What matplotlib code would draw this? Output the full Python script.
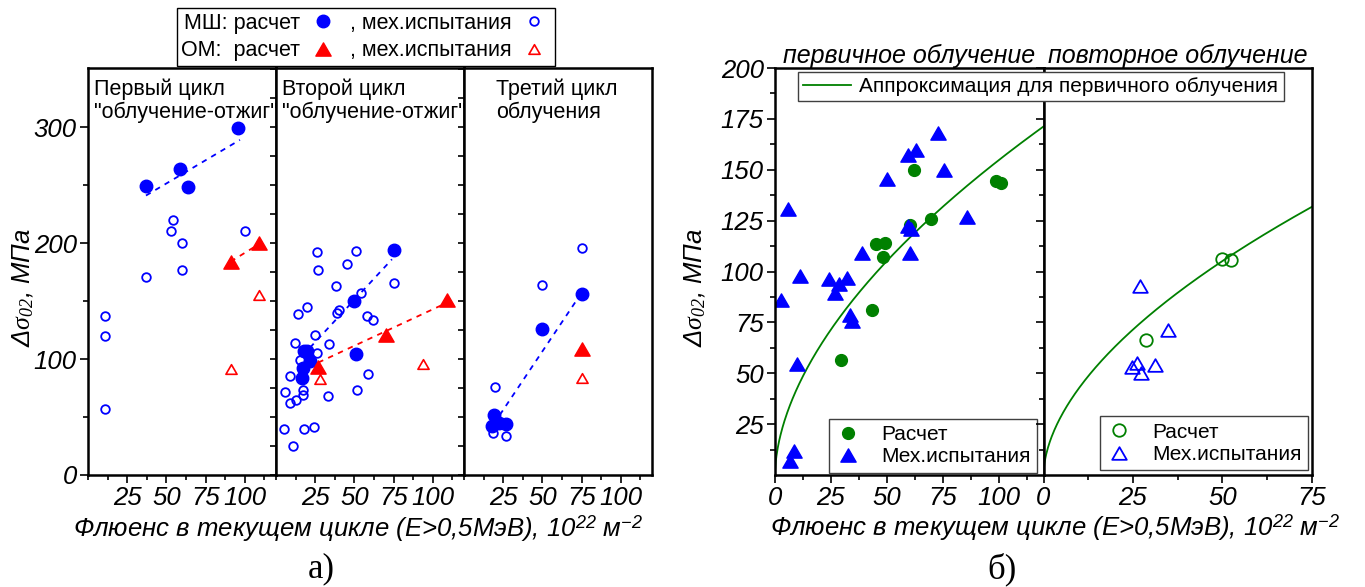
import numpy as np
import matplotlib
matplotlib.use("Agg")
import matplotlib.pyplot as plt
from matplotlib.lines import Line2D
from matplotlib.path import Path

plt.rcParams['font.family'] = ['Liberation Sans', 'DejaVu Sans']
plt.rcParams['mathtext.fontset'] = 'custom'
plt.rcParams['mathtext.rm'] = 'Liberation Serif:italic'
plt.rcParams['mathtext.it'] = 'Liberation Serif:italic'
plt.rcParams['mathtext.sf'] = 'Liberation Sans:italic'

BLUE = '#0000ff'
RED = '#ff0000'
GREEN = '#008000'

# ---- а) three "irradiation-annealing" cycles ----
cycle_titles = ['Первый цикл\n"облучение-отжиг"', 'Второй цикл\n"облучение-отжиг"', 'Третий цикл\nоблучения']

c1_ms_calc_x = [37, 59, 64, 96]
c1_ms_calc_y = [249, 264, 248, 299]
c1_ms_test_x = [11, 11, 11, 37, 53, 54, 60, 60, 100]
c1_ms_test_y = [137, 120, 57, 171, 210, 220, 200, 177, 210]
c1_om_calc_x = [91, 109]
c1_om_calc_y = [184, 200]
c1_om_test_x = [91, 109]
c1_om_test_y = [91, 155]
c1_ms_fit = ([37, 97], [241, 289])
c1_om_fit = ([91, 109], [184, 199])

c2_ms_calc_x = [75, 50, 51, 17.6, 20, 22, 17, 16.5]
c2_ms_calc_y = [194, 150, 104, 107, 107, 98, 92, 84]
c2_ms_test_x = [26, 51, 27, 45, 38, 75, 54, 14, 20, 39, 40, 58, 62, 25, 12, 34, 15, 26,
                9, 59, 6, 17, 17, 13, 9, 33, 52, 5, 18, 24, 11]
c2_ms_test_y = [192, 193, 177, 182, 163, 166, 157, 139, 145, 140, 142, 137, 134, 121, 114, 113, 99, 105,
                85, 87, 72, 73, 69, 65, 62, 68, 73, 40, 40, 41, 25]
c2_om_calc_x = [27, 70, 109]
c2_om_calc_y = [93, 121, 151]
c2_om_test_x = [28, 94]
c2_om_test_y = [83, 96]
c2_ms_fit = ([17, 74], [103, 186])
c2_om_fit = ([27, 109], [97, 148.5])

c3_ms_calc_x = [75, 50, 19, 18, 22.5, 27]
c3_ms_calc_y = [156, 126, 52, 42, 44.5, 44]
c3_ms_test_x = [75, 50, 20, 18.7, 26.6]
c3_ms_test_y = [196, 164, 76, 36, 34]
c3_om_calc_x = [75]
c3_om_calc_y = [109]
c3_om_test_x = [75]
c3_om_test_y = [84]
c3_ms_fit = ([19, 74], [44, 155])

# ---- б) primary / repeated irradiation ----
prim_calc_x = [62, 98.6, 101, 69.7, 60.4, 45, 49, 48.3, 43.4, 29.7]
prim_calc_y = [150, 144.5, 143.7, 126, 122.7, 113.4, 114.2, 107.3, 81, 56.3]
prim_test_x = [5.6, 2.5, 11, 24, 28.4, 32.3, 26.8, 39, 50.2, 59.6, 62.9, 59.4, 60.6, 60.4,
               73, 75.4, 85.7, 9.8, 33.3, 34.6, 8.7, 6.7]
prim_test_y = [130.6, 86, 97.8, 96.2, 93.7, 97, 89.6, 109, 145.7, 157.2, 159.8, 122.4, 121, 109,
               167.9, 149.7, 126.8, 54.7, 78.4, 75.6, 12, 7.1]
rep_calc_x = [49.8, 52.5, 28.5]
rep_calc_y = [106.3, 105.5, 66.1]
rep_test_x = [27, 34.8, 31.1, 26, 24.8, 27.2]
rep_test_y = [92.9, 71.2, 54, 55.2, 53.2, 49.9]
# approximation for primary irradiation: y = a * F^b
fit_a, fit_b = 11.9, 0.557

xlabel = 'Флюенс в текущем цикле (E>0,5МэВ), 10$^{\\mathsf{22}}$ м$^{\\mathsf{-2}}$'
ylabel = 'Δ$\\sigma_{02}$, МПа'

# equilateral triangle marker (closed)
TRI = Path([(-1, -0.866), (1, -0.866), (0, 0.866), (-1, -0.866)], closed=True)

W, H = 1365, 587
fig = plt.figure(figsize=(W / 100, H / 100), dpi=100)


def px_axes(x0, x1, y0=68, y1=475):
    return fig.add_axes([x0 / W, 1 - y1 / H, (x1 - x0) / W, (y1 - y0) / H])


def style(ax, lw=1.8):
    for s in ax.spines.values():
        s.set_linewidth(lw)
    ax.tick_params(which='both', direction='out', width=1.2, top=False, right=False)
    ax.tick_params(which='major', length=5.5, labelsize=18.5, pad=2.5)
    ax.tick_params(which='minor', length=3.5)
    for lab in ax.get_xticklabels() + ax.get_yticklabels():
        lab.set_fontstyle('italic')


# ---------- а) ----------
cycles = [
    (c1_ms_calc_x, c1_ms_calc_y, c1_ms_test_x, c1_ms_test_y, c1_om_calc_x, c1_om_calc_y,
     c1_om_test_x, c1_om_test_y, c1_ms_fit, c1_om_fit),
    (c2_ms_calc_x, c2_ms_calc_y, c2_ms_test_x, c2_ms_test_y, c2_om_calc_x, c2_om_calc_y,
     c2_om_test_x, c2_om_test_y, c2_ms_fit, c2_om_fit),
    (c3_ms_calc_x, c3_ms_calc_y, c3_ms_test_x, c3_ms_test_y, c3_om_calc_x, c3_om_calc_y,
     c3_om_test_x, c3_om_test_y, c3_ms_fit, None),
]
title_x = [0.03, 0.03, 0.17]
for i, (x0, cyc) in enumerate(zip([88, 276, 464], cycles)):
    ax = px_axes(x0, x0 + 188)
    mcx, mcy, mtx, mty, ocx, ocy, otx, oty, mfit, ofit = cyc
    ax.plot(mfit[0], mfit[1], color=BLUE, ls=(0, (3, 3)), lw=1.3)
    if ofit is not None:
        ax.plot(ofit[0], ofit[1], color=RED, ls=(0, (3, 3)), lw=1.3)
    ax.plot(mtx, mty, ls='none', marker='o', ms=6.2, mfc='none', mec=BLUE, mew=1.3)
    ax.plot(otx, oty, ls='none', marker=TRI, ms=8, mfc='none', mec=RED, mew=1.2)
    ax.plot(mcx, mcy, ls='none', marker='o', ms=9, color=BLUE)
    ax.plot(ocx, ocy, ls='none', marker=TRI, ms=11, color=RED)
    ax.set_xlim(0, 120)
    ax.set_ylim(0, 351)
    ax.set_xticks([25, 50, 75, 100])
    ax.set_xticks([0, 12.5, 37.5, 62.5, 87.5, 112.5], minor=True)
    if i == 0:
        ax.set_yticks([0, 100, 200, 300])
        ax.set_yticks([50, 150, 250], minor=True)
    else:
        ax.set_yticks([0, 25, 50, 75, 100, 125, 150, 175, 200, 225, 250, 275, 300, 325, 350])
        ax.set_yticklabels([])
    style(ax)
    if i > 0:
        ax.tick_params(axis='y', which='major', length=4.5)
    ax.text(title_x[i], 0.975, cycle_titles[i], transform=ax.transAxes, fontsize=15.5,
            va='top', ha='left', linespacing=1.1)

leg_handles = [
    Line2D([], [], ls='none', marker='o', ms=9, color=BLUE),
    Line2D([], [], ls='none', marker=TRI, ms=11, color=RED),
    Line2D([], [], ls='none', marker='o', ms=6.2, mfc='none', mec=BLUE, mew=1.3),
    Line2D([], [], ls='none', marker=TRI, ms=8, mfc='none', mec=RED, mew=1.2),
]
leg_labels = ['МШ: расчет', 'ОМ:  расчет', ', мех.испытания', ', мех.испытания']
fig.legend(leg_handles, leg_labels, ncol=2, markerfirst=False, loc='center',
           bbox_to_anchor=(366 / W, 1 - 37 / H), fontsize=15.5, frameon=True, fancybox=False,
           edgecolor='black', framealpha=1, borderpad=0.2, handlelength=1.6,
           handletextpad=0.25, columnspacing=0.45, labelspacing=0.3, borderaxespad=0)

fig.text(358 / W, 1 - 529 / H, xlabel, fontsize=18.5, style='italic', ha='center', va='center')
fig.text(23 / W, 1 - 288 / H, ylabel, fontsize=18.5, style='italic', rotation=90,
         ha='center', va='center')
fig.text(321 / W, 1 - 569 / H, 'а)', fontsize=25, family='Liberation Serif',
         ha='center', va='center')

# ---------- б) ----------
axp = px_axes(775, 1043.5)
axr = px_axes(1043.5, 1312)

fx1 = np.linspace(0.05, 120, 400)
axp.plot(fx1, fit_a * fx1 ** fit_b, color=GREEN, lw=1.3)
axp.plot(prim_calc_x, prim_calc_y, ls='none', marker='o', ms=8.5, color=GREEN, label='Расчет')
axp.plot(prim_test_x, prim_test_y, ls='none', marker=TRI, ms=11, color=BLUE, label='Мех.испытания')
axp.set_xlim(0, 120)
axp.set_ylim(0, 200)
axp.set_xticks([0, 25, 50, 75, 100])
axp.set_xticks([12.5, 37.5, 62.5, 87.5, 112.5], minor=True)
axp.set_yticks([25, 50, 75, 100, 125, 150, 175, 200])
axp.set_yticks([12.5, 37.5, 62.5, 87.5, 112.5, 137.5, 162.5, 187.5], minor=True)
style(axp)
axp.legend(loc='lower right', bbox_to_anchor=(0.977, 0.006), borderaxespad=0, fontsize=15,
           fancybox=False, edgecolor='#404040', framealpha=1, handlelength=1.2,
           handletextpad=1.0, borderpad=0.3, labelspacing=0.15)

fx2 = np.linspace(0.02, 75, 300)
axr.plot(fx2, fit_a * fx2 ** fit_b, color=GREEN, lw=1.3)
axr.plot(rep_calc_x, rep_calc_y, ls='none', marker='o', ms=9, mfc='none', mec=GREEN, mew=1.3,
         label='Расчет')
axr.plot(rep_test_x, rep_test_y, ls='none', marker=TRI, ms=10.5, mfc='none', mec=BLUE, mew=1.3,
         label='Мех.испытания')
axr.set_xlim(0, 75)
axr.set_ylim(0, 200)
axr.set_xticks([0, 25, 50, 75])
axr.set_xticks([12.5, 37.5, 62.5], minor=True)
axr.set_yticks([25, 50, 75, 100, 125, 150, 175, 200])
axr.set_yticks([12.5, 37.5, 62.5, 87.5, 112.5, 137.5, 162.5, 187.5], minor=True)
axr.set_yticklabels([])
style(axr)
axr.legend(loc='lower right', bbox_to_anchor=(0.986, 0.012), borderaxespad=0, fontsize=15,
           fancybox=False, edgecolor='#404040', framealpha=1, handlelength=1.2,
           handletextpad=1.0, borderpad=0.3, labelspacing=0.15)

fig.legend([Line2D([], [], color=GREEN, lw=1.3)], ['Аппроксимация для первичного облучения'],
           loc='upper left', bbox_to_anchor=(798 / W, 1 - 72 / H), borderaxespad=0, fontsize=15,
           fancybox=False, edgecolor='#404040', framealpha=1, handlelength=2.3,
           handletextpad=0.4, borderpad=0.25)

axp.set_title('первичное облучение', fontsize=18, style='italic', pad=3)
axr.set_title('повторное облучение', fontsize=18, style='italic', pad=3)

fig.text(1055 / W, 1 - 528 / H, xlabel, fontsize=18.5, style='italic', ha='center', va='center')
fig.text(695 / W, 1 - 288 / H, ylabel, fontsize=18.5, style='italic', rotation=90,
         ha='center', va='center')
fig.text(1002 / W, 1 - 569 / H, 'б)', fontsize=25, family='Liberation Serif',
         ha='center', va='center')

fig.savefig('out.png', dpi=100)
